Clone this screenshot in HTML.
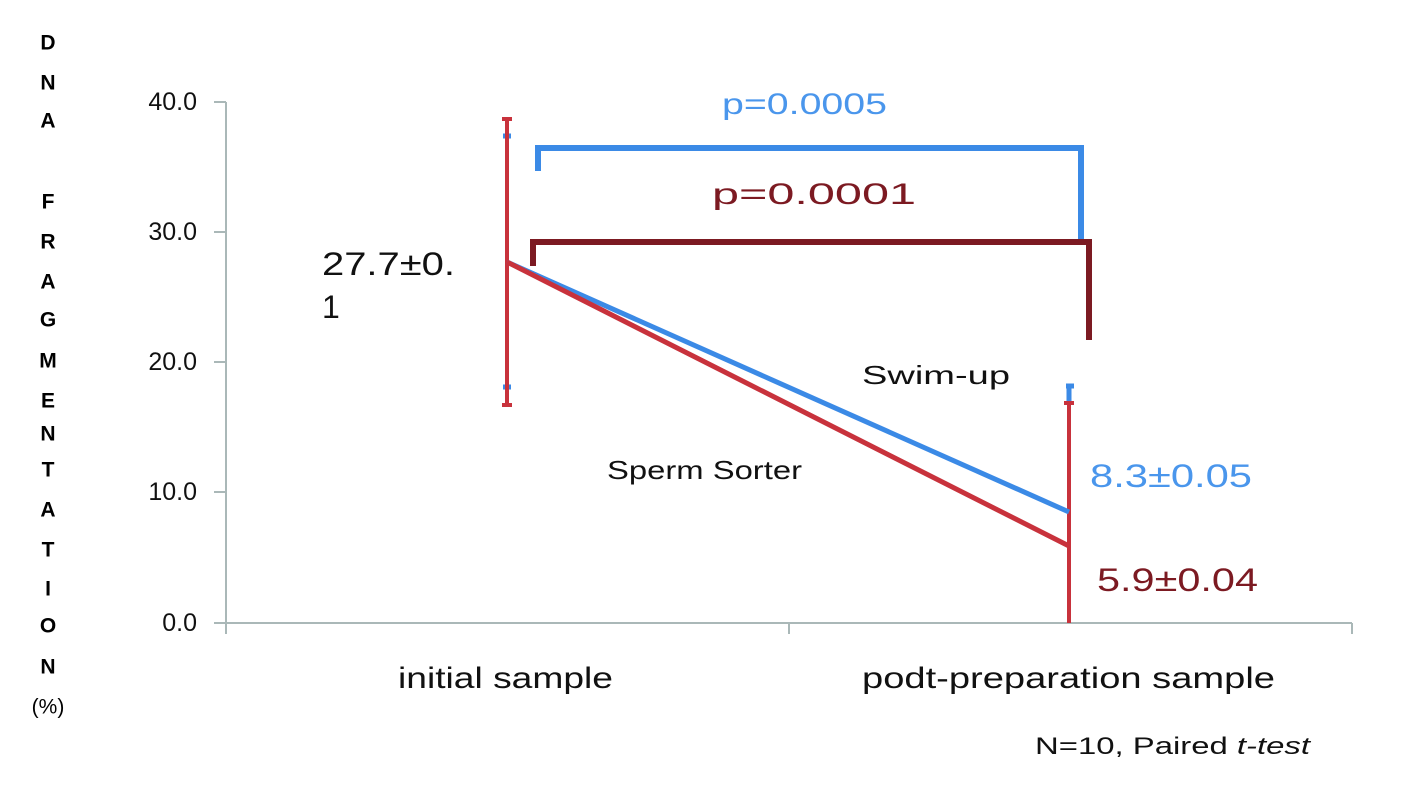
<!DOCTYPE html>
<html><head><meta charset="utf-8"><style>
html,body{margin:0;padding:0;background:#fff}
svg{display:block}
text{font-family:"Liberation Sans","DejaVu Sans","Noto Sans CJK JP",sans-serif}
</style></head><body>
<svg width="1415" height="792" viewBox="0 0 1415 792">
<g fill="#000" font-size="21" font-weight="bold" text-anchor="middle" dominant-baseline="central">
<text x="48" y="43">D</text><text x="48" y="83">N</text><text x="48" y="121">A</text>
<text x="48" y="202">F</text><text x="48" y="242">R</text><text x="48" y="282">A</text>
<text x="48" y="320">G</text><text x="48" y="361">M</text><text x="48" y="401">E</text>
<text x="48" y="434">N</text><text x="48" y="470">T</text><text x="48" y="510">A</text>
<text x="48" y="550">T</text><text x="48" y="589">I</text><text x="48" y="626">O</text>
<text x="48" y="667">N</text><text x="48" y="707" font-weight="normal">(%)</text>
</g>
<g font-size="25" text-anchor="end" dominant-baseline="central" fill="#111">
<text x="197" y="102">40.0</text><text x="197" y="232">30.0</text><text x="197" y="362">20.0</text>
<text x="197" y="492">10.0</text><text x="197" y="623">0.0</text>
</g>
<g stroke="#aab8b8" stroke-width="2" fill="none">
<line x1="226" y1="102" x2="226" y2="634"/>
<line x1="214" y1="102" x2="226" y2="102"/><line x1="214" y1="232" x2="226" y2="232"/>
<line x1="214" y1="362" x2="226" y2="362"/><line x1="214" y1="492" x2="226" y2="492"/>
<line x1="214" y1="623" x2="1352" y2="623"/>
<line x1="789" y1="623" x2="789" y2="634"/><line x1="1352" y1="623" x2="1352" y2="634"/>
</g>
<g font-size="30" fill="#111">
<text x="398" y="688" textLength="215" lengthAdjust="spacingAndGlyphs">initial sample</text>
<text x="862" y="688" textLength="413" lengthAdjust="spacingAndGlyphs">podt-preparation sample</text>
</g>
<polyline points="538,171 538,148 1081,148 1081,240" fill="none" stroke="#3b8ae6" stroke-width="6"/>
<polyline points="533,266 533,242 1089,242 1089,340" fill="none" stroke="#7c1a22" stroke-width="6"/>
<text x="722" y="114" font-size="30" textLength="165" lengthAdjust="spacingAndGlyphs" fill="#4a96ec">p=0.0005</text>
<text x="712" y="204" font-size="30" textLength="204" lengthAdjust="spacingAndGlyphs" fill="#7c1a22">p=0.0001</text>
<g stroke="#3b8ae6" stroke-width="5">
<line x1="503" y1="136" x2="511" y2="136"/><line x1="503" y1="387" x2="511" y2="387"/>
<line x1="1066" y1="386" x2="1074" y2="386"/><line x1="1069" y1="386" x2="1069" y2="402"/>
</g>
<g stroke="#c8323c" stroke-width="4">
<line x1="507" y1="119" x2="507" y2="405"/>
<line x1="502" y1="119" x2="512" y2="119"/><line x1="502" y1="405" x2="512" y2="405"/>
<line x1="1069" y1="403" x2="1069" y2="623"/>
<line x1="1064" y1="403" x2="1074" y2="403"/>
</g>
<line x1="507" y1="262" x2="1069" y2="512" stroke="#3b8ae6" stroke-width="5"/>
<line x1="507" y1="262" x2="1069" y2="546" stroke="#c8323c" stroke-width="5"/>
<text x="322" y="275" font-size="32" textLength="133" lengthAdjust="spacingAndGlyphs" fill="#111">27.7±0.</text>
<text x="322" y="318" font-size="32" fill="#111">1</text>
<text x="862" y="384" font-size="26" textLength="148" lengthAdjust="spacingAndGlyphs" fill="#111">Swim-up</text>
<text x="607" y="479" font-size="26" textLength="195" lengthAdjust="spacingAndGlyphs" fill="#111">Sperm Sorter</text>
<text x="1090" y="487" font-size="32" textLength="162" lengthAdjust="spacingAndGlyphs" fill="#4a96ec">8.3±0.05</text>
<text x="1097" y="591" font-size="32" textLength="161" lengthAdjust="spacingAndGlyphs" fill="#7c1a22">5.9±0.04</text>
<text x="1035" y="754" font-size="24" textLength="275" lengthAdjust="spacingAndGlyphs" fill="#111">N=10, Paired <tspan font-style="italic">t-test</tspan></text>
</svg>
</body></html>
